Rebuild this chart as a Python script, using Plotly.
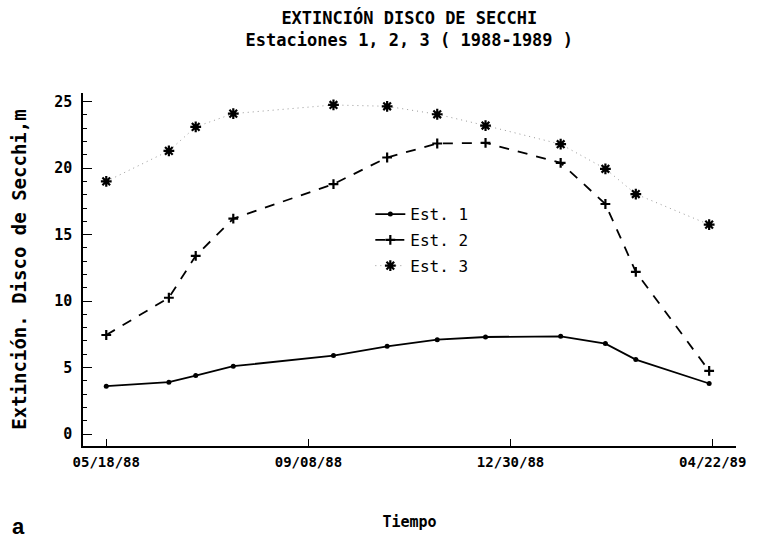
import plotly.graph_objects as go

dates = ["1988-05-18", "1988-06-22", "1988-07-07", "1988-07-28", "1988-09-22",
         "1988-10-22", "1988-11-19", "1988-12-16", "1989-01-27", "1989-02-21",
         "1989-03-10", "1989-04-20"]
est1 = [3.6, 3.9, 4.4, 5.1, 5.9, 6.6, 7.1, 7.3, 7.35, 6.8, 5.6, 3.8]
est2 = [7.45, 10.25, 13.4, 16.2, 18.8, 20.8, 21.85, 21.9, 20.4, 17.3, 12.2, 4.75]
est3 = [19.0, 21.3, 23.1, 24.1, 24.75, 24.65, 24.05, 23.2, 21.8, 19.95, 18.05, 15.75]

x_tickvals = ["1988-05-18", "1988-09-08", "1988-12-30", "1989-04-22"]
x_ticktext = ["05/18/88", "09/08/88", "12/30/88", "04/22/89"]
y_tickvals = [0, 5, 10, 15, 20, 25]
y_ticktext = ["0", "5", "10", "15", "20", "25"]

FONT = "DejaVu Sans Mono"

fig = go.Figure()
fig.add_trace(go.Scatter(
    x=dates, y=est1, name="Est. 1", mode="lines+markers", legendgroup="g1",
    line=dict(color="black", width=1.8),
    marker=dict(symbol="circle", size=5, color="black"),
))
fig.add_trace(go.Scatter(
    x=dates, y=est2, name="Est. 2", mode="lines+markers", legendgroup="g2",
    line=dict(color="black", width=1.8, dash="10px,9px"),
    marker=dict(symbol="cross-thin-open", size=7, color="black",
                line=dict(color="black", width=2.2)),
))
fig.add_trace(go.Scatter(
    x=dates, y=est3, name="Est. 3", mode="lines+markers", legendgroup="g3",
    line=dict(color="#999999", width=1, dash="1px,4px"),
    marker=dict(symbol="asterisk-open", size=9, color="black",
                line=dict(color="black", width=2.2)),
))

fig.update_layout(
    width=758, height=540,
    margin=dict(l=83, r=20, t=93, b=93),
    paper_bgcolor="white", plot_bgcolor="white",
    font=dict(family=FONT, color="black", size=13),
    title=dict(
        text="<b>EXTINCIÓN DISCO DE SECCHI<br>Estaciones 1, 2, 3 ( 1988-1989 )</b>",
        x=0.54, xanchor="center", y=0.955, yanchor="top",
        font=dict(family=FONT, size=17, color="black"),
    ),
    showlegend=True,
    legend=dict(
        x=0.44, y=0.705, xanchor="left", yanchor="top",
        bgcolor="rgba(0,0,0,0)", font=dict(family=FONT, size=16, color="black"),
        itemwidth=30, tracegroupgap=2,
    ),
    annotations=[dict(
        text="<b>a</b>", xref="paper", yref="paper", x=-0.099, y=-0.228,
        xanchor="center", yanchor="middle", showarrow=False,
        font=dict(family="Liberation Sans", size=22, color="black"),
    )],
)

fig.update_xaxes(
    type="date", range=["1988-05-05", "1989-05-05"],
    tickvals=x_tickvals, ticktext=[f"<b>{t}</b>" for t in x_ticktext],
    showline=True, linecolor="black", linewidth=2,
    ticks="inside", ticklen=7, tickwidth=1, tickcolor="black",
    showgrid=False, zeroline=False,
    tickfont=dict(family=FONT, size=14),
    ticklabelstandoff=2,
    title=dict(text="<b>Tiempo</b>", font=dict(family=FONT, size=15), standoff=48),
)
fig.update_yaxes(
    range=[-0.9, 25.65],
    tickvals=y_tickvals, ticktext=[f"<b>{t}</b>" for t in y_ticktext],
    showline=True, linecolor="black", linewidth=1.5,
    ticks="inside", ticklen=9, tickwidth=1, tickcolor="black",
    minor=dict(dtick=1, tick0=0, ticks="inside", ticklen=4, tickcolor="black", tickwidth=1),
    showgrid=False, zeroline=False,
    tickfont=dict(family=FONT, size=15),
    ticklabelstandoff=6,
    title=dict(text="<b>Extinción. Disco de Secchi,m</b>", font=dict(family=FONT, size=19), standoff=23),
)

fig.write_html("out.html")
